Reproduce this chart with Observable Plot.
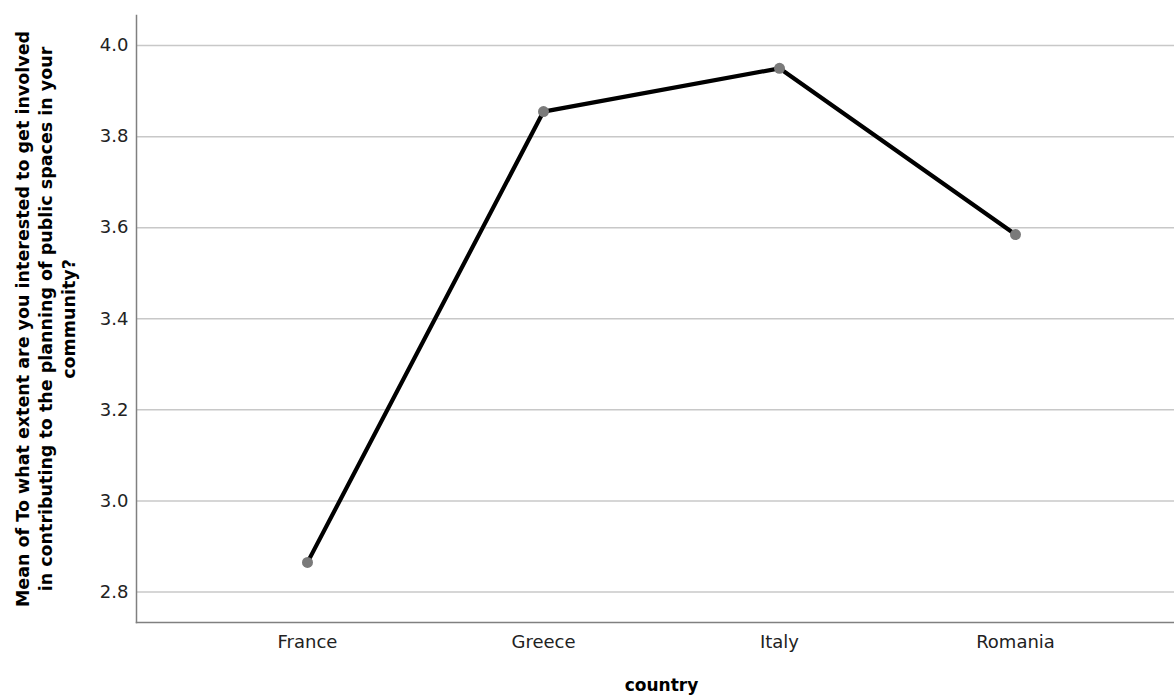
<!DOCTYPE html>
<html><head><meta charset="utf-8">
<script src="https://cdn.jsdelivr.net/npm/d3@7"></script>
<script src="https://cdn.jsdelivr.net/npm/@observablehq/plot@0.6"></script>
<style>body{margin:0;background:#fff} svg{display:block}</style>
</head><body><div id="chart"></div>
<script>
const countries = ["France", "Greece", "Italy", "Romania"];
const means = [2.865, 3.855, 3.950, 3.585];
const yTicks = [2.8, 3.0, 3.2, 3.4, 3.6, 3.8, 4.0];
const yDomain = [2.733, 4.066];
const yTitle = "Mean of To what extent are you interested to get involved\nin contributing to the planning of public spaces in your\ncommunity?";
const xTitle = "country";
const data = countries.map((c, i) => ({country: c, mean: means[i]}));

const chart = Plot.plot({
  width: 1174, height: 697,
  marginLeft: 136, marginRight: 0, marginTop: 15, marginBottom: 75,
  style: {fontFamily: "DejaVu Sans", fontSize: "18px", color: "#222", background: "#fff"},
  x: {type: "point", domain: countries, padding: 0.5, insetLeft: 53, insetRight: 41, label: null},
  y: {domain: yDomain, label: null},
  marks: [
    Plot.gridY(yTicks, {stroke: "#c8c8c8", strokeOpacity: 1, strokeWidth: 1.5}),
    Plot.frame({anchor: "left", stroke: "#808080", strokeWidth: 1.5}),
    Plot.frame({anchor: "bottom", stroke: "#808080", strokeWidth: 1.5}),
    Plot.axisY(yTicks, {tickSize: 0, tickPadding: 8, tickFormat: d => d.toFixed(1), label: null, fontSize: 18}),
    Plot.axisX({tickSize: 0, tickPadding: 13, label: null, fontSize: 18}),
    Plot.line(data, {x: "country", y: "mean", stroke: "#000", strokeWidth: 4.2}),
    Plot.dot(data, {x: "country", y: "mean", r: 5.5, fill: "#7a7a7a", stroke: "none"}),
    Plot.text([yTitle], {frameAnchor: "left", textAnchor: "middle", lineAnchor: "middle", rotate: -90, dx: -92, fontWeight: "bold", fontSize: 17.5, lineHeight: 1.33, fill: "#000"}),
    Plot.text([xTitle], {frameAnchor: "bottom", dy: 68, dx: 6, fontWeight: "bold", fontSize: 17, fill: "#000"})
  ]
});
document.getElementById("chart").appendChild(chart);
</script>
</body></html>
